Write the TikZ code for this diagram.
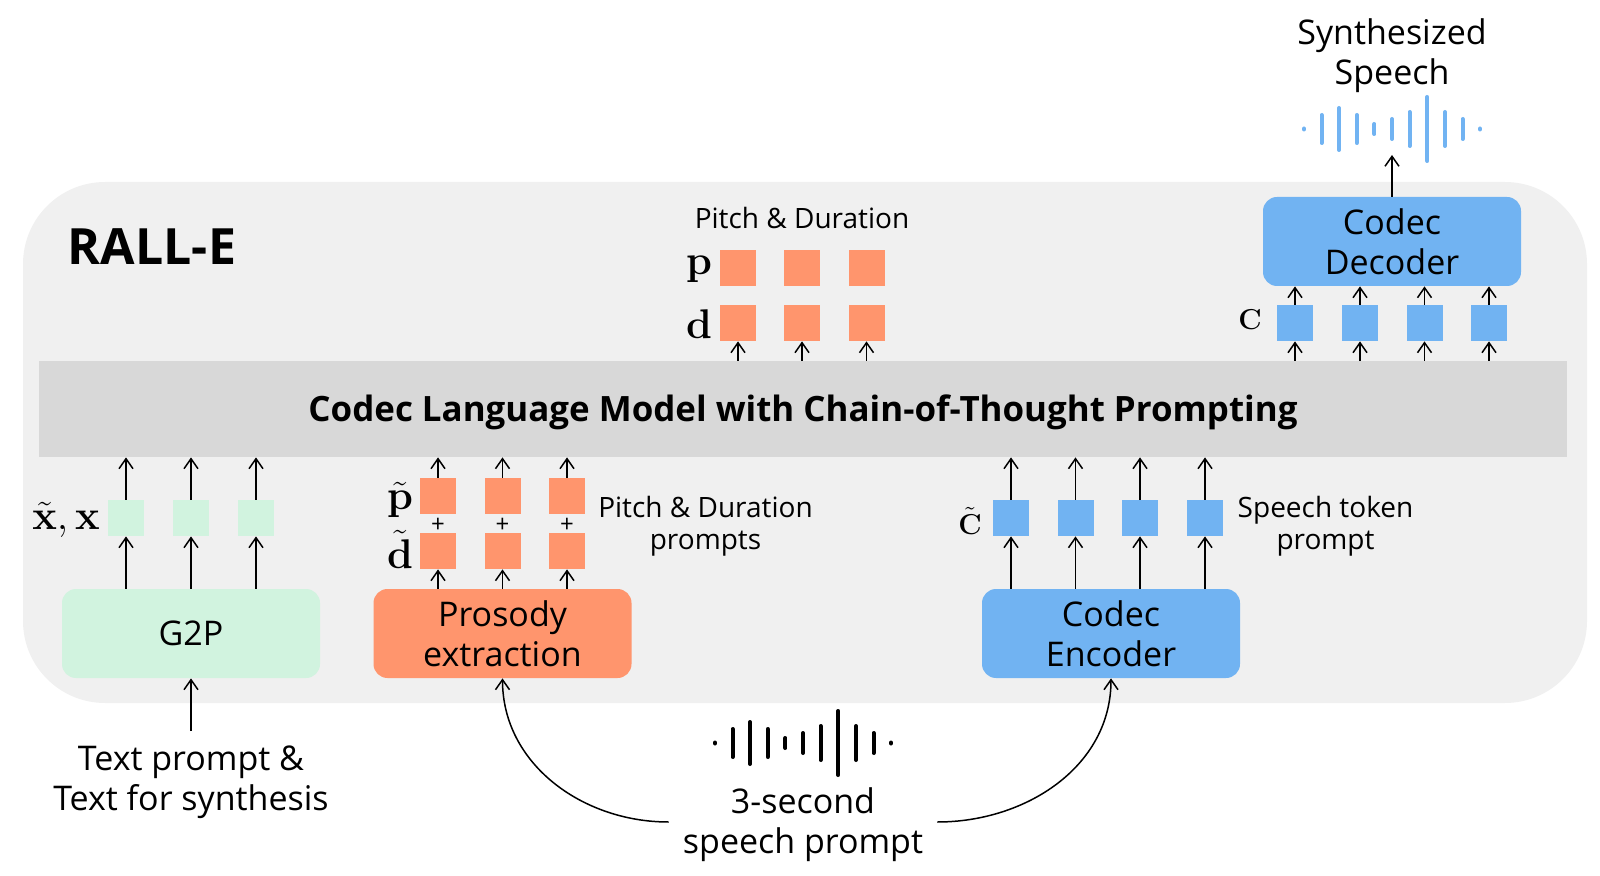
\documentclass[tikz,border=0pt]{standalone}
\usepackage{amsmath}
\usepackage[no-math]{fontspec}
\setmainfont{Open Sans}
\usetikzlibrary{arrows.meta}
\definecolor{panelgray}{HTML}{F0F0F0}
\definecolor{bandgray}{HTML}{D8D8D8}
\definecolor{tokgreen}{HTML}{D1F3DF}
\definecolor{tokorange}{HTML}{FF956D}
\definecolor{tokblue}{HTML}{71B3F2}
\begin{document}
\begin{tikzpicture}[
  x=0.5pt, y=-0.5pt,
  big/.style={font=\fontsize{17}{20}\selectfont, align=center},
  small/.style={font=\fontsize{14}{16}\selectfont, align=center},
  sym/.style={font=\fontsize{21}{24}\selectfont},
  capsym/.style={font=\fontsize{15.2}{18}\selectfont},
  module/.style={big, rounded corners=7pt, minimum width=129pt, minimum height=44.5pt, inner sep=0pt},
  tok/.style={minimum size=18pt, inner sep=0pt},
  arr/.style={-{Straight Barb[length=5pt, width=7pt]}, line width=0.75pt},
  bar/.style={line width=2pt, line cap=round}
]
  \useasboundingbox (0,0) rectangle (1600,876);

  % panel and band
  \fill[panelgray, rounded corners=41pt] (23,182) rectangle (1587,703);
  \node[fill=bandgray, minimum width=764pt, minimum height=48pt, inner sep=0pt] (band) at (803,409) {};
  \node[font=\fontsize{17.45}{20}\selectfont\bfseries] (bandtext) at (803,412)
        {Codec Language Model with Chain-of-Thought Prompting};
  \node[font=\fontsize{25}{28}\selectfont\bfseries] (title) at (152,247) {RALL-E};

  % modules
  \node[module, fill=tokgreen] (gtp) at (191,633.5) {G2P};
  \node[module, fill=tokorange] (prosody) at (502.5,633.5) {Prosody\\extraction};
  \node[module, fill=tokblue] (encoder) at (1111,633.5) {Codec\\Encoder};
  \node[module, fill=tokblue] (decoder) at (1392,241.5) {Codec\\Decoder};

  % text tokens
  \foreach \n/\x in {1/126,2/191,3/256} {
    \node[tok, fill=tokgreen] (x\n) at (\x,518) {};
    \draw[arr] (gtp.north -| x\n) -- (x\n.south);
    \draw[arr] (x\n.north) -- (x\n.north |- band.south);
  }

  % prompt pitch and duration
  \foreach \n/\x in {1/438,2/502.5,3/567} {
    \node[tok, fill=tokorange] (pp\n) at (\x,496) {};
    \node[tok, fill=tokorange] (dp\n) at (\x,551) {};
    \node[font=\fontsize{12}{12}\selectfont] (plus\n) at (\x,525) {+};
    \draw[arr] (prosody.north -| dp\n) -- (dp\n.south);
    \draw[arr] (pp\n.north) -- (pp\n.north |- band.south);
  }

  % prompt speech tokens
  \foreach \n/\x in {1/1011,2/1075.5,3/1140,4/1205} {
    \node[tok, fill=tokblue] (cp\n) at (\x,518) {};
    \draw[arr] (encoder.north -| cp\n) -- (cp\n.south);
    \draw[arr] (cp\n.north) -- (cp\n.north |- band.south);
  }

  % generated pitch and duration
  \foreach \n/\x in {1/738,2/802,3/866.5} {
    \node[tok, fill=tokorange] (p\n) at (\x,268) {};
    \node[tok, fill=tokorange] (d\n) at (\x,323) {};
    \draw[arr] (band.north -| d\n) -- (d\n.south);
  }

  % generated speech tokens
  \foreach \n/\x in {1/1295,2/1360,3/1424.5,4/1489} {
    \node[tok, fill=tokblue] (c\n) at (\x,323) {};
    \draw[arr] (band.north -| c\n) -- (c\n.south);
    \draw[arr] (c\n.north) -- (c\n.north |- decoder.south);
  }

  % symbols
  \node[sym, inner sep=0pt] (xlbl) at (66,520) {$\tilde{\mathbf{x}},\mathbf{x}$};
  \node[sym, inner sep=0pt] (plbl) at (400,500) {$\tilde{\mathbf{p}}$};
  \node[sym, inner sep=0pt] (dlbl) at (400,549) {$\tilde{\mathbf{d}}$};
  \node[capsym, inner sep=0pt] (ctlbl) at (970,521) {$\tilde{\mathbf{C}}$};
  \node[capsym, inner sep=0pt] (clbl) at (1250,320) {$\mathbf{C}$};
  \node[sym, inner sep=0pt] (pl) at (699,269) {$\mathbf{p}$};
  \node[sym, inner sep=0pt] (dl) at (699,324) {$\mathbf{d}$};

  % small labels
  \node[small] (pdtop) at (802,218) {Pitch \& Duration};
  \node[small] (pdprompt) at (705.5,526) {Pitch \& Duration\\prompts};
  \node[small] (stprompt) at (1325.5,526) {Speech token\\prompt};

  % outer labels
  \node[big] (textin) at (191,782) {Text prompt \&\\Text for synthesis};
  \node[big, inner xsep=7pt] (speechin) at (803,825) {3-second\\speech prompt};
  \node[big] (synth) at (1392,56) {Synthesized\\Speech};
  \coordinate (textend) at (191,731);
  \coordinate (waveend) at (1392,155);

  \draw[arr] (textend) -- (gtp.south);
  \draw[arr] ([yshift=1.5pt]speechin.west) to[out=180, in=-90] (prosody.south);
  \draw[arr] ([yshift=1.5pt]speechin.east) to[out=0, in=-90] (encoder.south);
  \draw[arr] (decoder.north) -- (waveend);

  % waveforms
  \foreach \dx/\h in {-88/0.5,-70.5/14,-53/21,-35.3/14,-17.6/5,0/10,17.6/17,35.3/32,53/17,70.5/10,88/0.5} {
    \draw[bar] (803+\dx,743-\h) -- (803+\dx,743+\h);
    \draw[bar, tokblue] (1392+\dx,129-\h) -- (1392+\dx,129+\h);
  }
\end{tikzpicture}
\end{document}
